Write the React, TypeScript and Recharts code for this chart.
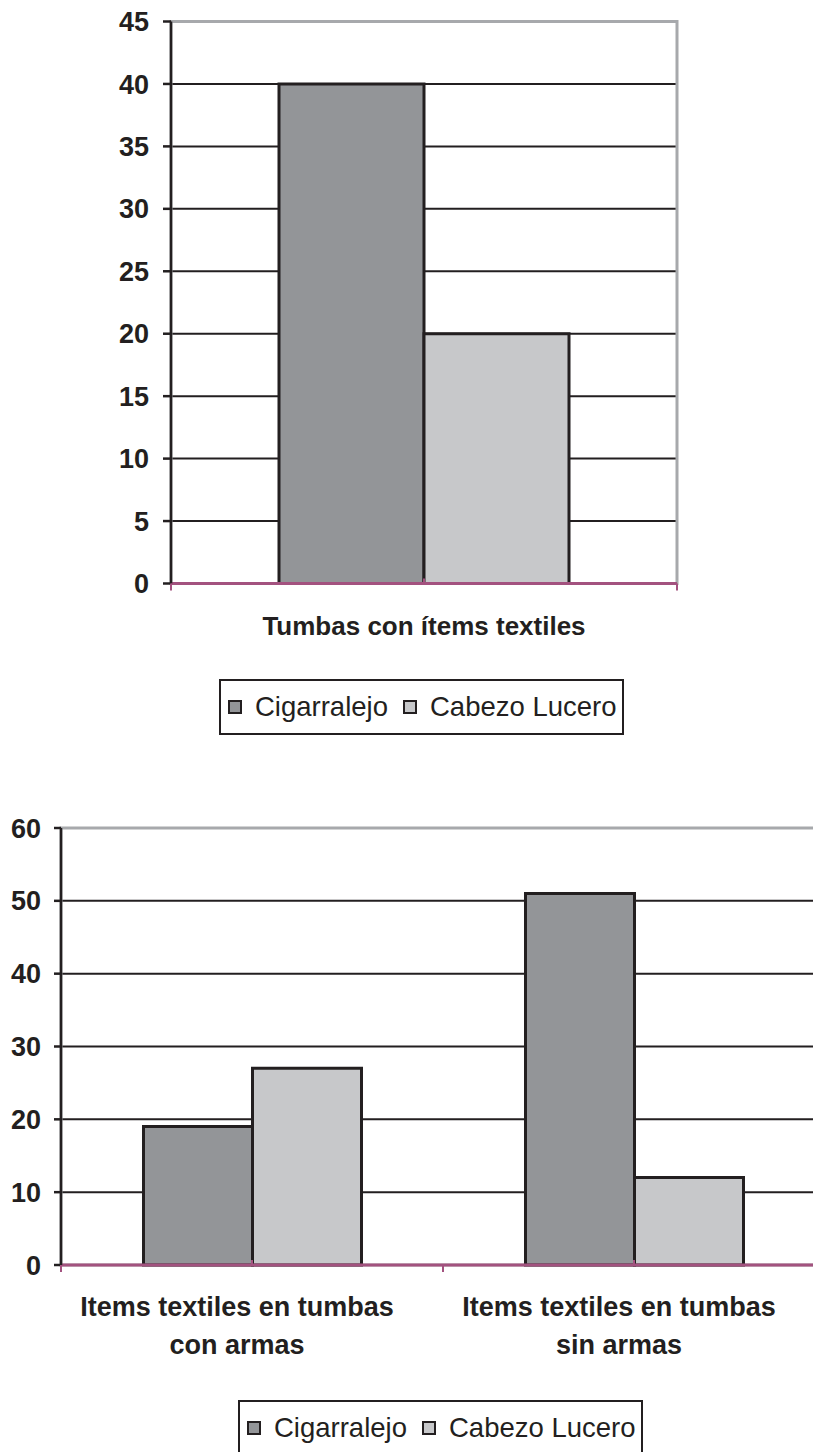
import { BarChart, Bar, XAxis, YAxis, CartesianGrid, Legend, ReferenceArea } from "recharts";

// series
const SERIES = ["Cigarralejo", "Cabezo Lucero"];
const COLORS = ["#939598", "#c7c8ca"];

// chart 1
const categories1 = ["Tumbas con ítems textiles"];
const cigarralejo1 = [40];
const cabezo1 = [20];
const ticks1 = [0, 5, 10, 15, 20, 25, 30, 35, 40, 45];

// chart 2
const categories2 = ["Items textiles en tumbas\ncon armas", "Items textiles en tumbas\nsin armas"];
const cigarralejo2 = [19, 51];
const cabezo2 = [27, 12];
const ticks2 = [0, 10, 20, 30, 40, 50, 60];

const FONT = "'Liberation Sans', Arial, sans-serif";
const INK = "#231f20";
const PURPLE = "#a3527f";
const FRAME = "#a7a9ac";

const data1 = categories1.map((name, i) => ({ name, cig: cigarralejo1[i], cab: cabezo1[i] }));
const data2 = categories2.map((name, i) => ({ name, cig: cigarralejo2[i], cab: cabezo2[i] }));

function CategoryTick(props: any) {
  const { x, y, payload, index, band, count, shift = 0, size = 26 } = props;
  const half = band / 2;
  const lines = String(payload.value).split("\n");
  return (
    <g>
      <line x1={x - half} x2={x - half} y1={y} y2={y + 7} stroke={PURPLE} strokeWidth={2} />
      {index === count - 1 && (
        <line x1={x + half} x2={x + half} y1={y} y2={y + 7} stroke={PURPLE} strokeWidth={2} />
      )}
      <line x1={x} x2={x} y1={y - 5} y2={y} stroke={PURPLE} strokeWidth={2} />
      <text textAnchor="middle" fill={INK} fontSize={size} fontWeight="bold" fontFamily={FONT}>
        {lines.map((l, i) => (
          <tspan key={i} x={x + shift} y={y + 51 + i * 38}>
            {l}
          </tspan>
        ))}
      </text>
    </g>
  );
}

function LegendBox(props: any) {
  const items = [...(props.payload || [])].sort(
    (a: any, b: any) => SERIES.indexOf(a.value) - SERIES.indexOf(b.value)
  );
  return (
    <div
      style={{
        boxSizing: "border-box",
        height: 56,
        border: `2.5px solid ${INK}`,
        display: "flex",
        alignItems: "center",
        paddingLeft: 7,
        fontFamily: FONT,
        fontSize: 27.5,
        color: INK,
        background: "#fff",
        whiteSpace: "nowrap",
      }}
    >
      {items.map((p: any, i: number) => (
        <span key={i} style={{ display: "flex", alignItems: "center", marginRight: 15 }}>
          <span
            style={{
              boxSizing: "border-box",
              width: 14,
              height: 14,
              border: `2px solid ${INK}`,
              background: p.color,
              marginRight: 13,
            }}
          />
          {p.value}
        </span>
      ))}
    </div>
  );
}

export default function App() {
  const plot1 = 813 - 171 - 136;
  const plot2 = 856 - 61 - 31;
  return (
    <div
      style={{
        position: "absolute",
        left: 0,
        top: 0,
        width: 813,
        height: 1452,
        overflow: "hidden",
        background: "#fff",
      }}
    >
      <div style={{ position: "absolute", left: 0, top: 0 }}>
        <BarChart
          width={813}
          height={760}
          data={data1}
          margin={{ top: 21.5, right: 136, left: 0, bottom: 116.5 }}
          barCategoryGap={108}
          barGap={0}
        >
          <CartesianGrid horizontal vertical={false} stroke={INK} strokeWidth={2} />
          <Bar dataKey="cig" name={SERIES[0]} fill={COLORS[0]} stroke={INK} strokeWidth={3} isAnimationActive={false} />
          <Bar dataKey="cab" name={SERIES[1]} fill={COLORS[1]} stroke={INK} strokeWidth={3} isAnimationActive={false} />
          <ReferenceArea y1={0} y2={45} fill="none" stroke={FRAME} strokeWidth={3} />
          <XAxis
            dataKey="name"
            height={60}
            axisLine={{ stroke: PURPLE, strokeWidth: 3 }}
            tickLine={false}
            tickSize={0}
            tickMargin={0}
            interval={0}
            tick={<CategoryTick band={plot1} count={categories1.length} size={26} />}
          />
          <YAxis
            width={171}
            domain={[0, 45]}
            ticks={ticks1}
            interval={0}
            axisLine={{ stroke: INK, strokeWidth: 2.5 }}
            tickLine={{ stroke: INK, strokeWidth: 2.5 }}
            tickSize={8}
            tickMargin={14}
            tick={{ fill: INK, fontSize: 27, fontWeight: "bold", fontFamily: FONT }}
          />
          <Legend
            verticalAlign="middle"
            align="center"
            layout="horizontal"
            content={<LegendBox />}
            wrapperStyle={{ left: 219, top: 679, width: 405, height: 56 }}
          />
        </BarChart>
      </div>

      <div style={{ position: "absolute", left: 0, top: 800 }}>
        <BarChart
          width={856}
          height={652}
          data={data2}
          margin={{ top: 28, right: 31, left: 0, bottom: 87 }}
          barCategoryGap={82.5}
          barGap={0}
        >
          <CartesianGrid horizontal vertical={false} stroke={INK} strokeWidth={2} />
          <Bar dataKey="cig" name={SERIES[0]} fill={COLORS[0]} stroke={INK} strokeWidth={3} isAnimationActive={false} />
          <Bar dataKey="cab" name={SERIES[1]} fill={COLORS[1]} stroke={INK} strokeWidth={3} isAnimationActive={false} />
          <ReferenceArea y1={0} y2={60} fill="none" stroke={FRAME} strokeWidth={3} />
          <XAxis
            dataKey="name"
            height={100}
            axisLine={{ stroke: PURPLE, strokeWidth: 3 }}
            tickLine={false}
            tickSize={0}
            tickMargin={0}
            interval={0}
            tick={
              <CategoryTick band={plot2 / categories2.length} count={categories2.length} shift={-15} size={27} />
            }
          />
          <YAxis
            width={61}
            domain={[0, 60]}
            ticks={ticks2}
            interval={0}
            axisLine={{ stroke: INK, strokeWidth: 2.5 }}
            tickLine={{ stroke: INK, strokeWidth: 2.5 }}
            tickSize={7}
            tickMargin={13}
            tick={{ fill: INK, fontSize: 27, fontWeight: "bold", fontFamily: FONT }}
          />
          <Legend
            verticalAlign="middle"
            align="center"
            layout="horizontal"
            content={<LegendBox />}
            wrapperStyle={{ left: 238, top: 600, width: 405, height: 56 }}
          />
        </BarChart>
      </div>
    </div>
  );
}
